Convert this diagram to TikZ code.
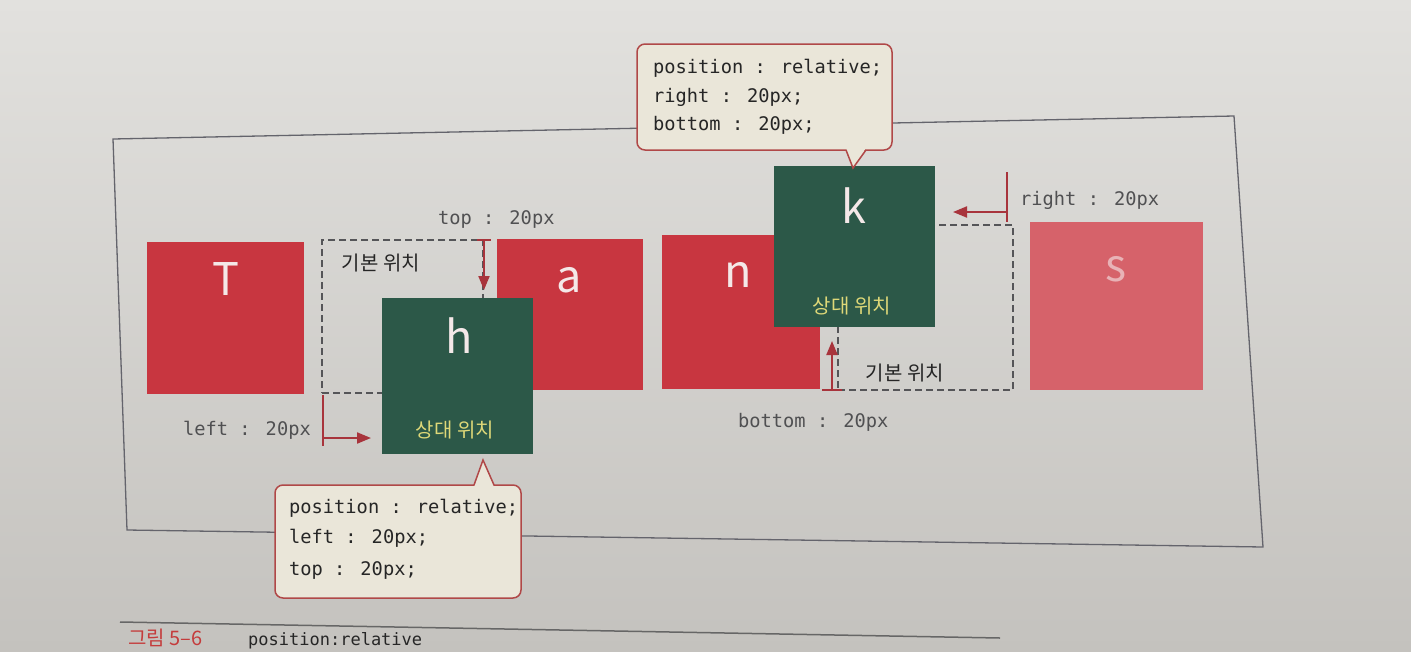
\documentclass[tikz,border=0pt]{standalone}
\usepackage{fontspec}
\setmainfont{Noto Sans CJK KR}
\newfontfamily\monof{DejaVu Sans Mono}
\usetikzlibrary{arrows.meta}
\definecolor{boxred}{RGB}{200,54,64}
\definecolor{boxpink}{RGB}{214,98,106}
\definecolor{boxgreen}{RGB}{44,88,72}
\definecolor{labyellow}{RGB}{222,216,120}
\definecolor{letterw}{RGB}{244,232,232}
\definecolor{arrred}{RGB}{168,52,60}
\definecolor{dashgray}{RGB}{85,85,88}
\definecolor{monogray}{RGB}{80,80,82}
\definecolor{calloutfill}{RGB}{234,230,217}
\definecolor{calloutline}{RGB}{176,72,72}
\definecolor{framegray}{RGB}{100,100,108}
\definecolor{papertop}{RGB}{226,225,222}
\definecolor{paperbot}{RGB}{196,194,190}
\definecolor{capred}{RGB}{196,60,60}
\begin{document}
\begin{tikzpicture}[x=1pt,y=-1pt,
  box/.style={inner sep=0pt,outer sep=0pt,draw=none},
  redbox/.style={box,fill=boxred},
  pinkbox/.style={box,fill=boxpink},
  greenbox/.style={box,fill=boxgreen},
  basebox/.style={box,draw=dashgray,line width=1.6pt,dash pattern=on 7pt off 4pt},
  letter/.style={anchor=base,text=letterw,font=\fontsize{45pt}{45pt}\selectfont,inner sep=0pt},
  kor/.style={anchor=base,font=\fontsize{20pt}{20pt}\selectfont,inner sep=0pt},
  mono/.style={anchor=base west,inner sep=0pt,font=\monof\fontsize{18.7pt}{18.7pt}\selectfont},
  dimtick/.style={draw=arrred,line width=2pt},
  dimarrow/.style={draw=arrred,line width=2pt,-{Triangle[length=14pt,width=11pt]}},
  callout/.style={box,draw=calloutline,fill=calloutfill,line width=1.5pt,rounded corners=8pt}
]
\useasboundingbox (0,0) rectangle (1411,651);
\fill[top color=papertop,bottom color=paperbot] (0,0) rectangle (1411,651);

% outer frame
\draw[framegray,line width=1.3pt] (113,139) -- (1234,116) -- (1263,547) -- (127,530) -- cycle;

% default (base) positions
\node[basebox,minimum width=161pt,minimum height=153pt] (hbase) at (402.5,316.5) {};
\node[basebox,minimum width=175pt,minimum height=165pt] (kbase) at (925.5,307.5) {};

% boxes
\node[redbox,minimum width=157pt,minimum height=152pt] (T) at (225.5,318) {};
\node[redbox,minimum width=146pt,minimum height=151pt] (a) at (570,314.5) {};
\node[redbox,minimum width=158pt,minimum height=154pt] (n) at (741,312) {};
\node[pinkbox,minimum width=173pt,minimum height=168pt] (s) at (1116.5,306) {};
\node[greenbox,minimum width=151pt,minimum height=156pt] (h) at (457.5,376) {};
\node[greenbox,minimum width=161pt,minimum height=161pt] (k) at (854.5,246.5) {};

% letters
\node[letter] (Tl) at (226,295) {T};
\node[letter] (al) at (569,292) {a};
\node[letter] (nl) at (738,287) {n};
\node[letter,text=boxpink!40!letterw] (sl) at (1116,281) {s};
\node[letter] (hl) at (459,353) {h};
\node[letter] (kl) at (854,223) {k};

% labels
\node[kor,text=black!85] (hbl) at (381,270) {기본 위치};
\node[kor,text=black!85] (kbl) at (905,380) {기본 위치};
\node[kor,text=labyellow] (hrl) at (455,437) {상대 위치};
\node[kor,text=labyellow] (krl) at (852,313) {상대 위치};

% dimension markers
\coordinate (t1) at (477,240); \coordinate (t2) at (491,240);
\coordinate (t0) at (484,240); \coordinate (tE) at (484,290);
\draw[dimtick] (t1) -- (t2);
\draw[dimarrow] (t0) -- (tE);

\coordinate (l1) at (323,395); \coordinate (l2) at (323,446);
\coordinate (l0) at (323,438); \coordinate (lE) at (371,438);
\draw[dimtick] (l1) -- (l2);
\draw[dimarrow] (l0) -- (lE);

\coordinate (b1) at (822,390); \coordinate (b2) at (842,390);
\coordinate (b0) at (832,390); \coordinate (bE) at (832,341);
\draw[dimtick] (b1) -- (b2);
\draw[dimarrow] (b0) -- (bE);

\coordinate (r1) at (1007,172); \coordinate (r2) at (1007,222);
\coordinate (r0) at (1007,212); \coordinate (rE) at (953,212);
\draw[dimtick] (r1) -- (r2);
\draw[dimarrow] (r0) -- (rE);

\node[mono,text=monogray] (toplab) at (438,224) {top : 20px};
\node[mono,text=monogray] (leftlab) at (183,435) {left : 20px};
\node[mono,text=monogray] (botlab) at (738,427) {bottom : 20px};
\node[mono,text=monogray] (rightlab) at (1020,205) {right : 20px};

% callout top (k)
\node[callout,minimum width=255pt,minimum height=106pt] (ck) at (764.5,97) {};
\coordinate (ckA) at (846,150); \coordinate (ckB) at (866,150); \coordinate (ckT) at (853,168);
\fill[calloutfill] ([yshift=2pt]ckA) -- (ckT) -- ([yshift=2pt]ckB) -- cycle;
\draw[calloutline,line width=1.5pt,line join=miter] (ckA) -- (ckT) -- (ckB);
\node[mono,text=black!85] (ck1) at (653,73) {position : relative;};
\node[mono,text=black!85] (ck2) at (653,102) {right : 20px;};
\node[mono,text=black!85] (ck3) at (653,130) {bottom : 20px;};

% callout bottom (h)
\node[callout,minimum width=246pt,minimum height=113pt] (ch) at (398,541.5) {};
\coordinate (chA) at (474,485); \coordinate (chB) at (494,485); \coordinate (chT) at (483,460);
\fill[calloutfill] ([yshift=-2pt]chA) -- (chT) -- ([yshift=-2pt]chB) -- cycle;
\draw[calloutline,line width=1.5pt,line join=miter] (chA) -- (chT) -- (chB);
\node[mono,text=black!85] (ch1) at (289,513) {position : relative;};
\node[mono,text=black!85] (ch2) at (289,543) {left : 20px;};
\node[mono,text=black!85] (ch3) at (289,575) {top : 20px;};

% caption
\draw[black!60,line width=1.5pt] (120,622) -- (1000,638);
\node[anchor=base west,inner sep=0pt,text=capred,font=\fontsize{20pt}{20pt}\selectfont] (capnum) at (128,645) {그림 5–6};
\node[mono,text=black!85,font=\monof\fontsize{17pt}{17pt}\selectfont] (captext) at (248,645) {position:relative};
\end{tikzpicture}
\end{document}
